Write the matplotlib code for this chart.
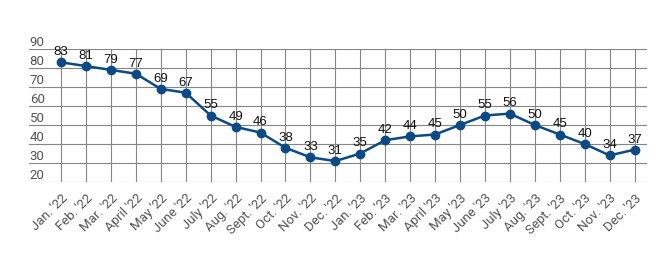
import matplotlib
matplotlib.use('Agg')
import matplotlib.pyplot as plt
import matplotlib.transforms as mtransforms

months = ["Jan. '22", "Feb. '22", "Mar. '22", "April '22", "May '22", "June '22",
          "July '22", "Aug. '22", "Sept. '22", "Oct. '22", "Nov. '22", "Dec. '22",
          "Jan. '23", "Feb. '23", "Mar. '23", "April '23", "May '23", "June '23",
          "July '23", "Aug. '23", "Sept. '23", "Oct. '23", "Nov. '23", "Dec. '23"]
values = [83, 81, 79, 77, 69, 67, 55, 49, 46, 38, 33, 31,
          35, 42, 44, 45, 50, 55, 56, 50, 45, 40, 34, 37]
y_ticks = [20, 30, 40, 50, 60, 70, 80, 90]

line_color = '#0b4a85'
grid_color = '#858585'
label_color = '#555555'

fig = plt.figure(figsize=(6.71, 2.58), dpi=100)
ax = fig.add_axes([29 / 671, 1 - 182 / 258, (647 - 29) / 671, (182 - 49) / 258])

x = list(range(len(months)))
ax.plot(x, values, color=line_color, linewidth=1.8, marker='o',
        markersize=6, zorder=3)

for xi, v in zip(x, values):
    ax.annotate(str(v), (xi, v), xytext=(0, 3), textcoords='offset points',
                ha='center', va='bottom', fontsize=9.5, color='#111111',
                family='Liberation Sans', zorder=4)

ax.set_xlim(-1.285, 23.5)
ax.set_ylim(20, 90)
ax.set_xticks(x)
ax.set_yticks(y_ticks)
ax.grid(True, color=grid_color, linewidth=0.8)
ax.set_axisbelow(True)
for s in ax.spines.values():
    s.set_visible(False)
ax.tick_params(axis='both', length=0)

# y labels sit inside the plot, left-aligned, above their gridline
ax.set_yticklabels([str(t) for t in y_ticks], family='Roboto', fontsize=9.5,
                   color=label_color, ha='left', va='bottom')
off = mtransforms.ScaledTranslation(0, 1 / 100, fig.dpi_scale_trans)
for lbl in ax.get_yticklabels():
    lbl.set_transform(lbl.get_transform() + off)
ax.yaxis.set_tick_params(pad=-0.5)

ax.set_xticklabels(months, rotation=45, ha='right', rotation_mode='anchor',
                   family='Roboto', fontsize=9.5, color=label_color)
xoff = mtransforms.ScaledTranslation(6 / 100, 0, fig.dpi_scale_trans)
for lbl in ax.get_xticklabels():
    lbl.set_transform(lbl.get_transform() + xoff)
ax.tick_params(axis='x', pad=7)

fig.savefig('out.png', dpi=100)
